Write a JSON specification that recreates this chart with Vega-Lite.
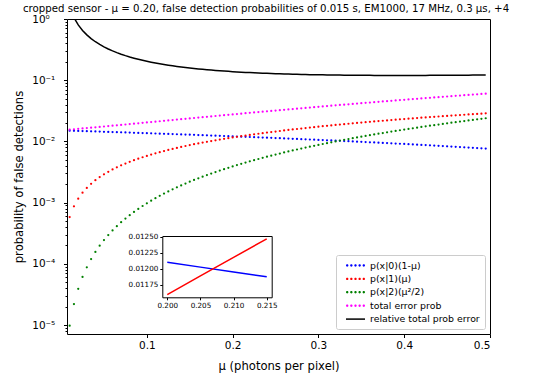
{
  "$schema": "https://vega.github.io/schema/vega-lite/v6.json",
  "width": 423,
  "height": 315,
  "autosize": {"type": "none"},
  "padding": {"left": 67, "top": 19, "right": 43, "bottom": 49},
  "background": "white",
  "title": {
    "text": "cropped sensor - μ = 0.20, false detection probabilities of 0.015 s, EM1000, 17 MHz, 0.3 μs, +4",
    "anchor": "start",
    "frame": "group",
    "dx": -44,
    "fontSize": 10.2,
    "fontWeight": "normal",
    "font": "DejaVu Sans",
    "color": "black",
    "offset": 0
  },
  "config": {
    "font": "DejaVu Sans",
    "view": {"stroke": "black", "strokeWidth": 1},
    "axis": {
      "labelFont": "DejaVu Sans",
      "titleFont": "DejaVu Sans",
      "labelColor": "black",
      "titleColor": "black",
      "tickColor": "black",
      "domainColor": "black",
      "grid": false,
      "titleFontWeight": "normal",
      "zindex": 1
    }
  },
  "datasets": {
    "curves": [
      {"mu": 0.010, "p0": 0.014979, "p1": 0.00058, "p2": 9.75e-6, "tot": 0.015568, "rel": 1.5568},
      {"mu": 0.015, "p0": 0.014903, "p1": 0.00087, "p2": 2.194e-5, "tot": 0.015795, "rel": 1.0530},
      {"mu": 0.020, "p0": 0.014827, "p1": 0.00116, "p2": 3.9e-5, "tot": 0.016026, "rel": 0.8013},
      {"mu": 0.025, "p0": 0.014752, "p1": 0.00145, "p2": 6.094e-5, "tot": 0.016263, "rel": 0.6505},
      {"mu": 0.030, "p0": 0.014676, "p1": 0.00174, "p2": 8.775e-5, "tot": 0.016504, "rel": 0.5501},
      {"mu": 0.035, "p0": 0.0146, "p1": 0.00203, "p2": 0.0001194, "tot": 0.01675, "rel": 0.4786},
      {"mu": 0.040, "p0": 0.014525, "p1": 0.00232, "p2": 0.000156, "tot": 0.017001, "rel": 0.4250},
      {"mu": 0.045, "p0": 0.014449, "p1": 0.00261, "p2": 0.0001974, "tot": 0.017257, "rel": 0.3835},
      {"mu": 0.050, "p0": 0.014374, "p1": 0.0029, "p2": 0.0002438, "tot": 0.017517, "rel": 0.3503},
      {"mu": 0.055, "p0": 0.014298, "p1": 0.00319, "p2": 0.0002949, "tot": 0.017783, "rel": 0.3233},
      {"mu": 0.060, "p0": 0.014222, "p1": 0.00348, "p2": 0.000351, "tot": 0.018053, "rel": 0.3009},
      {"mu": 0.065, "p0": 0.014147, "p1": 0.00377, "p2": 0.0004119, "tot": 0.018329, "rel": 0.2820},
      {"mu": 0.070, "p0": 0.014071, "p1": 0.00406, "p2": 0.0004778, "tot": 0.018609, "rel": 0.2658},
      {"mu": 0.075, "p0": 0.013995, "p1": 0.00435, "p2": 0.0005484, "tot": 0.018893, "rel": 0.2519},
      {"mu": 0.080, "p0": 0.01392, "p1": 0.00464, "p2": 0.000624, "tot": 0.019184, "rel": 0.2398},
      {"mu": 0.085, "p0": 0.013844, "p1": 0.00493, "p2": 0.0007044, "tot": 0.019478, "rel": 0.2292},
      {"mu": 0.090, "p0": 0.013768, "p1": 0.00522, "p2": 0.0007898, "tot": 0.019778, "rel": 0.2198},
      {"mu": 0.095, "p0": 0.013693, "p1": 0.00551, "p2": 0.0008799, "tot": 0.020083, "rel": 0.2114},
      {"mu": 0.100, "p0": 0.013617, "p1": 0.0058, "p2": 0.000975, "tot": 0.020392, "rel": 0.2039},
      {"mu": 0.105, "p0": 0.013541, "p1": 0.00609, "p2": 0.001075, "tot": 0.020706, "rel": 0.1972},
      {"mu": 0.110, "p0": 0.013466, "p1": 0.00638, "p2": 0.00118, "tot": 0.021026, "rel": 0.1911},
      {"mu": 0.115, "p0": 0.01339, "p1": 0.00667, "p2": 0.001289, "tot": 0.021349, "rel": 0.1856},
      {"mu": 0.120, "p0": 0.013314, "p1": 0.00696, "p2": 0.001404, "tot": 0.021678, "rel": 0.1807},
      {"mu": 0.125, "p0": 0.013239, "p1": 0.00725, "p2": 0.001523, "tot": 0.022012, "rel": 0.1761},
      {"mu": 0.130, "p0": 0.013163, "p1": 0.00754, "p2": 0.001648, "tot": 0.022351, "rel": 0.1719},
      {"mu": 0.135, "p0": 0.013087, "p1": 0.00783, "p2": 0.001777, "tot": 0.022694, "rel": 0.1681},
      {"mu": 0.140, "p0": 0.013012, "p1": 0.00812, "p2": 0.001911, "tot": 0.023043, "rel": 0.1646},
      {"mu": 0.145, "p0": 0.012936, "p1": 0.00841, "p2": 0.00205, "tot": 0.023396, "rel": 0.1614},
      {"mu": 0.150, "p0": 0.012861, "p1": 0.0087, "p2": 0.002194, "tot": 0.023755, "rel": 0.1584},
      {"mu": 0.155, "p0": 0.012785, "p1": 0.00899, "p2": 0.002342, "tot": 0.024117, "rel": 0.1556},
      {"mu": 0.160, "p0": 0.012709, "p1": 0.00928, "p2": 0.002496, "tot": 0.024485, "rel": 0.1530},
      {"mu": 0.165, "p0": 0.012634, "p1": 0.00957, "p2": 0.002654, "tot": 0.024858, "rel": 0.1507},
      {"mu": 0.170, "p0": 0.012558, "p1": 0.00986, "p2": 0.002818, "tot": 0.025236, "rel": 0.1484},
      {"mu": 0.175, "p0": 0.012482, "p1": 0.01015, "p2": 0.002986, "tot": 0.025618, "rel": 0.1464},
      {"mu": 0.180, "p0": 0.012407, "p1": 0.01044, "p2": 0.003159, "tot": 0.026006, "rel": 0.1445},
      {"mu": 0.185, "p0": 0.012331, "p1": 0.01073, "p2": 0.003337, "tot": 0.026398, "rel": 0.1427},
      {"mu": 0.190, "p0": 0.012255, "p1": 0.01102, "p2": 0.00352, "tot": 0.026795, "rel": 0.1410},
      {"mu": 0.195, "p0": 0.01218, "p1": 0.01131, "p2": 0.003707, "tot": 0.027197, "rel": 0.1395},
      {"mu": 0.200, "p0": 0.012104, "p1": 0.0116, "p2": 0.0039, "tot": 0.027604, "rel": 0.1380},
      {"mu": 0.205, "p0": 0.012028, "p1": 0.01189, "p2": 0.004097, "tot": 0.028015, "rel": 0.1367},
      {"mu": 0.210, "p0": 0.011953, "p1": 0.01218, "p2": 0.0043, "tot": 0.028433, "rel": 0.1354},
      {"mu": 0.215, "p0": 0.011877, "p1": 0.01247, "p2": 0.004507, "tot": 0.028854, "rel": 0.1342},
      {"mu": 0.220, "p0": 0.011801, "p1": 0.01276, "p2": 0.004719, "tot": 0.02928, "rel": 0.1331},
      {"mu": 0.225, "p0": 0.011726, "p1": 0.01305, "p2": 0.004936, "tot": 0.029712, "rel": 0.1321},
      {"mu": 0.230, "p0": 0.01165, "p1": 0.01334, "p2": 0.005158, "tot": 0.030148, "rel": 0.1311},
      {"mu": 0.235, "p0": 0.011574, "p1": 0.01363, "p2": 0.005384, "tot": 0.030588, "rel": 0.1302},
      {"mu": 0.240, "p0": 0.011499, "p1": 0.01392, "p2": 0.005616, "tot": 0.031035, "rel": 0.1293},
      {"mu": 0.245, "p0": 0.011423, "p1": 0.01421, "p2": 0.005852, "tot": 0.031485, "rel": 0.1285},
      {"mu": 0.250, "p0": 0.011348, "p1": 0.0145, "p2": 0.006094, "tot": 0.031942, "rel": 0.1278},
      {"mu": 0.255, "p0": 0.011272, "p1": 0.01479, "p2": 0.00634, "tot": 0.032402, "rel": 0.1271},
      {"mu": 0.260, "p0": 0.011196, "p1": 0.01508, "p2": 0.006591, "tot": 0.032867, "rel": 0.1264},
      {"mu": 0.265, "p0": 0.011121, "p1": 0.01537, "p2": 0.006847, "tot": 0.033338, "rel": 0.1258},
      {"mu": 0.270, "p0": 0.011045, "p1": 0.01566, "p2": 0.007108, "tot": 0.033813, "rel": 0.1252},
      {"mu": 0.275, "p0": 0.010969, "p1": 0.01595, "p2": 0.007373, "tot": 0.034292, "rel": 0.1247},
      {"mu": 0.280, "p0": 0.010894, "p1": 0.01624, "p2": 0.007644, "tot": 0.034778, "rel": 0.1242},
      {"mu": 0.285, "p0": 0.010818, "p1": 0.01653, "p2": 0.007919, "tot": 0.035267, "rel": 0.1237},
      {"mu": 0.290, "p0": 0.010742, "p1": 0.01682, "p2": 0.0082, "tot": 0.035762, "rel": 0.1233},
      {"mu": 0.295, "p0": 0.010667, "p1": 0.01711, "p2": 0.008485, "tot": 0.036262, "rel": 0.1229},
      {"mu": 0.300, "p0": 0.010591, "p1": 0.0174, "p2": 0.008775, "tot": 0.036766, "rel": 0.1226},
      {"mu": 0.305, "p0": 0.010515, "p1": 0.01769, "p2": 0.00907, "tot": 0.037275, "rel": 0.1222},
      {"mu": 0.310, "p0": 0.01044, "p1": 0.01798, "p2": 0.00937, "tot": 0.03779, "rel": 0.1219},
      {"mu": 0.315, "p0": 0.010364, "p1": 0.01827, "p2": 0.009674, "tot": 0.038308, "rel": 0.1216},
      {"mu": 0.320, "p0": 0.010288, "p1": 0.01856, "p2": 0.009984, "tot": 0.038832, "rel": 0.1214},
      {"mu": 0.325, "p0": 0.010213, "p1": 0.01885, "p2": 0.010298, "tot": 0.039361, "rel": 0.1211},
      {"mu": 0.330, "p0": 0.010137, "p1": 0.01914, "p2": 0.010618, "tot": 0.039895, "rel": 0.1209},
      {"mu": 0.335, "p0": 0.010062, "p1": 0.01943, "p2": 0.010942, "tot": 0.040433, "rel": 0.1207},
      {"mu": 0.340, "p0": 0.009986, "p1": 0.01972, "p2": 0.011271, "tot": 0.040977, "rel": 0.1205},
      {"mu": 0.345, "p0": 0.00991, "p1": 0.02001, "p2": 0.011605, "tot": 0.041525, "rel": 0.1204},
      {"mu": 0.350, "p0": 0.009835, "p1": 0.0203, "p2": 0.011944, "tot": 0.042079, "rel": 0.1202},
      {"mu": 0.355, "p0": 0.009759, "p1": 0.02059, "p2": 0.012287, "tot": 0.042636, "rel": 0.1201},
      {"mu": 0.360, "p0": 0.009683, "p1": 0.02088, "p2": 0.012636, "tot": 0.043199, "rel": 0.1200},
      {"mu": 0.365, "p0": 0.009608, "p1": 0.02117, "p2": 0.012989, "tot": 0.043767, "rel": 0.1199},
      {"mu": 0.370, "p0": 0.009532, "p1": 0.02146, "p2": 0.013348, "tot": 0.04434, "rel": 0.1198},
      {"mu": 0.375, "p0": 0.009456, "p1": 0.02175, "p2": 0.013711, "tot": 0.044917, "rel": 0.1198},
      {"mu": 0.380, "p0": 0.009381, "p1": 0.02204, "p2": 0.014079, "tot": 0.0455, "rel": 0.1197},
      {"mu": 0.385, "p0": 0.009305, "p1": 0.02233, "p2": 0.014452, "tot": 0.046087, "rel": 0.1197},
      {"mu": 0.390, "p0": 0.009229, "p1": 0.02262, "p2": 0.01483, "tot": 0.046679, "rel": 0.1197},
      {"mu": 0.395, "p0": 0.009154, "p1": 0.02291, "p2": 0.015212, "tot": 0.047276, "rel": 0.1197},
      {"mu": 0.400, "p0": 0.009078, "p1": 0.0232, "p2": 0.0156, "tot": 0.047878, "rel": 0.1197},
      {"mu": 0.405, "p0": 0.009002, "p1": 0.02349, "p2": 0.015992, "tot": 0.048484, "rel": 0.1197},
      {"mu": 0.410, "p0": 0.008927, "p1": 0.02378, "p2": 0.01639, "tot": 0.049097, "rel": 0.1197},
      {"mu": 0.415, "p0": 0.008851, "p1": 0.02407, "p2": 0.016792, "tot": 0.049713, "rel": 0.1198},
      {"mu": 0.420, "p0": 0.008775, "p1": 0.02436, "p2": 0.017199, "tot": 0.050334, "rel": 0.1198},
      {"mu": 0.425, "p0": 0.0087, "p1": 0.02465, "p2": 0.017611, "tot": 0.050961, "rel": 0.1199},
      {"mu": 0.430, "p0": 0.008624, "p1": 0.02494, "p2": 0.018028, "tot": 0.051592, "rel": 0.1200},
      {"mu": 0.435, "p0": 0.008548, "p1": 0.02523, "p2": 0.018449, "tot": 0.052227, "rel": 0.1201},
      {"mu": 0.440, "p0": 0.008473, "p1": 0.02552, "p2": 0.018876, "tot": 0.052869, "rel": 0.1202},
      {"mu": 0.445, "p0": 0.008397, "p1": 0.02581, "p2": 0.019307, "tot": 0.053514, "rel": 0.1203},
      {"mu": 0.450, "p0": 0.008322, "p1": 0.0261, "p2": 0.019744, "tot": 0.054166, "rel": 0.1204},
      {"mu": 0.455, "p0": 0.008246, "p1": 0.02639, "p2": 0.020185, "tot": 0.054821, "rel": 0.1205},
      {"mu": 0.460, "p0": 0.00817, "p1": 0.02668, "p2": 0.020631, "tot": 0.055481, "rel": 0.1206},
      {"mu": 0.465, "p0": 0.008095, "p1": 0.02697, "p2": 0.021082, "tot": 0.056147, "rel": 0.1207},
      {"mu": 0.470, "p0": 0.008019, "p1": 0.02726, "p2": 0.021538, "tot": 0.056817, "rel": 0.1209},
      {"mu": 0.475, "p0": 0.007943, "p1": 0.02755, "p2": 0.021998, "tot": 0.057491, "rel": 0.1210},
      {"mu": 0.480, "p0": 0.007868, "p1": 0.02784, "p2": 0.022464, "tot": 0.058172, "rel": 0.1212},
      {"mu": 0.485, "p0": 0.007792, "p1": 0.02813, "p2": 0.022934, "tot": 0.058856, "rel": 0.1214},
      {"mu": 0.490, "p0": 0.007716, "p1": 0.02842, "p2": 0.02341, "tot": 0.059546, "rel": 0.1215},
      {"mu": 0.495, "p0": 0.007641, "p1": 0.02871, "p2": 0.02389, "tot": 0.060241, "rel": 0.1217}
    ]
  },
  "data": {"name": "curves"},
  "resolve": {
    "scale": {"x": "independent", "y": "independent"},
    "axis": {"x": "independent", "y": "independent"},
    "legend": {"color": "independent"}
  },
  "layer": [
    {
      "transform": [{"fold": ["p0", "p1", "p2", "tot"], "as": ["series", "prob"]}],
      "mark": {"type": "point", "filled": true, "size": 5, "opacity": 1},
      "encoding": {
        "x": {
          "field": "mu",
          "type": "quantitative",
          "scale": {"domain": [0.0069, 0.5], "nice": false, "zero": false},
          "axis": {
            "orient": "bottom",
            "values": [0.1, 0.2, 0.3, 0.4, 0.5],
            "format": ".1f",
            "domain": false,
            "tickSize": 3.5,
            "labelFontSize": 10.5,
            "labelPadding": 3,
            "title": "μ (photons per pixel)",
            "titleFontSize": 11.6,
            "titleY": 32,
            "titleBaseline": "middle"
          }
        },
        "y": {
          "field": "prob",
          "type": "quantitative",
          "scale": {"type": "log", "domain": [7.13e-6, 1], "nice": false},
          "axis": {
            "orient": "left",
            "values": [1, 0.1, 0.01, 0.001, 0.0001, 0.00001],
            "labelExpr": "datum.value > 0.5 ? '10⁰' : datum.value > 0.05 ? '10⁻¹' : datum.value > 0.005 ? '10⁻²' : datum.value > 0.0005 ? '10⁻³' : datum.value > 0.00005 ? '10⁻⁴' : '10⁻⁵'",
            "domain": false,
            "tickSize": 3.5,
            "labelFontSize": 10.5,
            "labelAlign": "left",
            "labelPadding": 31.8,
            "title": "probability of false detections",
            "titleFontSize": 11.6,
            "titleX": -48,
            "titleAlign": "center",
            "titleBaseline": "middle"
          }
        },
        "color": {
          "field": "series",
          "type": "nominal",
          "scale": {
            "domain": ["p0", "p1", "p2", "tot", "rel"],
            "range": ["#0000ff", "#ff0000", "#008000", "#ff00ff", "#000000"]
          },
          "legend": {
            "title": null,
            "orient": "bottom-right",
            "offset": 5,
            "fillColor": "white",
            "strokeColor": "#cccccc",
            "cornerRadius": 2,
            "padding": 5,
            "rowPadding": 3.4,
            "labelFont": "DejaVu Sans",
            "labelFontSize": 9.4,
            "labelColor": "black",
            "labelOffset": 18,
            "symbolSize": 81,
            "symbolType": {"expr": "datum.value === 'rel' ? 'M-0.111,-0.167L4.111,-0.167L4.111,0.167L-0.111,0.167Z' : 'M-0.111,0a0.267,0.267 0 1,0 0.534,0a0.267,0.267 0 1,0 -0.534,0M0.811,0a0.267,0.267 0 1,0 0.534,0a0.267,0.267 0 1,0 -0.534,0M1.733,0a0.267,0.267 0 1,0 0.534,0a0.267,0.267 0 1,0 -0.534,0M2.655,0a0.267,0.267 0 1,0 0.534,0a0.267,0.267 0 1,0 -0.534,0M3.577,0a0.267,0.267 0 1,0 0.534,0a0.267,0.267 0 1,0 -0.534,0'"},
            "labelExpr": "datum.label === 'p0' ? 'p(x|0)(1-μ)' : datum.label === 'p1' ? 'p(x|1)(μ)' : datum.label === 'p2' ? 'p(x|2)(μ²/2)' : datum.label === 'tot' ? 'total error prob' : 'relative total prob error'"
          }
        }
      }
    },
    {
      "transform": [{"fold": ["rel"], "as": ["series", "prob"]}],
      "mark": {"type": "line", "clip": true, "strokeWidth": 1.5},
      "encoding": {
        "x": {
          "field": "mu",
          "type": "quantitative",
          "scale": {"domain": [0.0069, 0.5], "nice": false, "zero": false},
          "axis": null
        },
        "y": {
          "field": "prob",
          "type": "quantitative",
          "scale": {"type": "log", "domain": [7.13e-6, 1], "nice": false},
          "axis": {
            "orient": "left",
            "values": [8e-6, 9e-6, 2e-5, 3e-5, 4e-5, 5e-5, 6e-5, 7e-5, 8e-5, 9e-5, 2e-4, 3e-4, 4e-4, 5e-4, 6e-4, 7e-4, 8e-4, 9e-4, 0.002, 0.003, 0.004, 0.005, 0.006, 0.007, 0.008, 0.009, 0.02, 0.03, 0.04, 0.05, 0.06, 0.07, 0.08, 0.09, 0.2, 0.3, 0.4, 0.5, 0.6, 0.7, 0.8, 0.9],
            "labels": false,
            "domain": false,
            "tickSize": 2,
            "title": null
          }
        },
        "color": {"field": "series", "type": "nominal", "legend": null}
      }
    },
    {
      "transform": [
        {"filter": "datum.mu > 0.1999 && datum.mu < 0.2151"},
        {"fold": ["p0", "p1"], "as": ["series", "prob"]}
      ],
      "mark": {"type": "line", "strokeWidth": 1.5},
      "encoding": {
        "x": {
          "field": "mu",
          "type": "quantitative",
          "scale": {"domain": [0.19925, 0.21575], "range": [95.3, 204.7], "nice": false, "zero": false},
          "axis": {
            "orient": "bottom",
            "offset": -36.7,
            "values": [0.2, 0.205, 0.21, 0.215],
            "format": ".3f",
            "domain": true,
            "domainWidth": 1,
            "tickSize": 2.5,
            "labelFontSize": 7.2,
            "labelPadding": 2,
            "title": null
          }
        },
        "y": {
          "field": "prob",
          "type": "quantitative",
          "scale": {"domain": [0.011557, 0.012514], "range": [278.3, 217], "nice": false, "zero": false},
          "axis": {
            "orient": "left",
            "offset": -95.3,
            "values": [0.01175, 0.012, 0.01225, 0.0125],
            "format": ".5f",
            "domain": true,
            "domainWidth": 1,
            "tickSize": 2.5,
            "labelFontSize": 7.2,
            "labelPadding": 2,
            "title": null
          }
        },
        "color": {"field": "series", "type": "nominal", "legend": null}
      }
    },
    {
      "transform": [{"filter": "datum.mu > 0.1999 && datum.mu < 0.2151"}],
      "mark": {"type": "line", "strokeOpacity": 0},
      "encoding": {
        "x": {
          "field": "mu",
          "type": "quantitative",
          "scale": {"domain": [0.19925, 0.21575], "range": [95.3, 204.7], "nice": false, "zero": false},
          "axis": {"orient": "top", "offset": -217, "labels": false, "ticks": false, "domain": true, "title": null}
        },
        "y": {
          "field": "p0",
          "type": "quantitative",
          "scale": {"domain": [0.011557, 0.012514], "range": [278.3, 217], "nice": false, "zero": false},
          "axis": {"orient": "right", "offset": -218.3, "labels": false, "ticks": false, "domain": true, "title": null}
        }
      }
    }
  ]
}
